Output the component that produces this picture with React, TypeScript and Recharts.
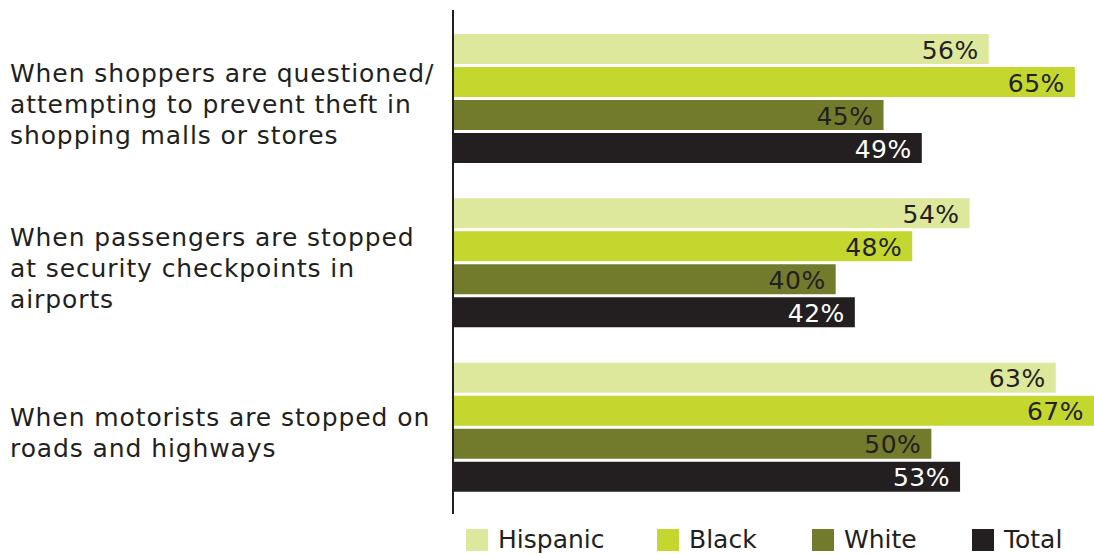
import { BarChart, Bar, XAxis, YAxis, LabelList } from 'recharts'

const categories = [
  'When shoppers are questioned/|attempting to prevent theft in|shopping malls or stores',
  'When passengers are stopped|at security checkpoints in|airports',
  'When motorists are stopped on|roads and highways',
]
const hispanic = [56, 54, 63]
const black = [65, 48, 67]
const white = [45, 40, 50]
const total = [49, 42, 53]

const seriesNames = ['Hispanic', 'Black', 'White', 'Total']
const seriesColors = ['#dde89c', '#c3d72f', '#727b2b', '#231f20']
const labelColors = ['#231f20', '#231f20', '#231f20', '#ffffff']
const legendX = [466, 657, 812, 972]

const FONT = '"DejaVu Sans", sans-serif'
const TEXT = '#231f20'

const data = categories.map((c, i) => ({
  name: c,
  Hispanic: hispanic[i],
  Black: black[i],
  White: white[i],
  Total: total[i],
}))

// eslint-disable-next-line @typescript-eslint/no-explicit-any
function CategoryTick({ y, payload }: any) {
  const lines: string[] = payload.value.split('|')
  const lh = 31
  const start = y + 6 - ((lines.length - 1) * lh) / 2
  return (
    <text x={10} y={start} fill={TEXT} fontSize={25} letterSpacing={0.9} fontFamily={FONT} textAnchor="start">
      {lines.map((l, i) => (
        <tspan key={i} x={10} y={start + i * lh} dominantBaseline="central">
          {l}
        </tspan>
      ))}
    </text>
  )
}

function makeValueLabel(color: string) {
  // eslint-disable-next-line @typescript-eslint/no-explicit-any
  return function ValueLabel({ x, y, width, height, value }: any) {
    return (
      <text
        x={x + width - 10}
        y={y + height / 2 + 1}
        fill={color}
        fontSize={25}
        letterSpacing={0.5}
        fontFamily={FONT}
        textAnchor="end"
        dominantBaseline="central"
      >
        {value}%
      </text>
    )
  }
}

export default function App() {
  return (
    <div style={{ position: 'absolute', left: 0, top: 0, width: 1094, height: 554, background: '#fff' }}>
      <BarChart
        width={1094}
        height={554}
        data={data}
        layout="vertical"
        margin={{ top: 10, right: 0, bottom: 40, left: 0 }}
        barSize={30}
        barGap={3}
      >
        <XAxis type="number" domain={[0, 67]} hide />
        <YAxis
          type="category"
          dataKey="name"
          width={453}
          tick={<CategoryTick />}
          tickLine={false}
          axisLine={{ stroke: TEXT, strokeWidth: 2 }}
          padding={{ top: 6, bottom: 5 }}
        />
        {seriesNames.map((s, i) => (
          <Bar key={s} dataKey={s} fill={seriesColors[i]} isAnimationActive={false}>
            <LabelList dataKey={s} content={makeValueLabel(labelColors[i])} />
          </Bar>
        ))}
      </BarChart>
      {seriesNames.map((s, i) => (
        <div
          key={s}
          style={{
            position: 'absolute',
            top: 529,
            left: legendX[i],
            height: 22,
            display: 'flex',
            alignItems: 'center',
            fontFamily: FONT,
            fontSize: 25,
            lineHeight: '22px',
            color: TEXT,
            whiteSpace: 'nowrap',
          }}
        >
          <div style={{ width: 22, height: 22, background: seriesColors[i], marginRight: 10 }} />
          <span>{s}</span>
        </div>
      ))}
    </div>
  )
}
